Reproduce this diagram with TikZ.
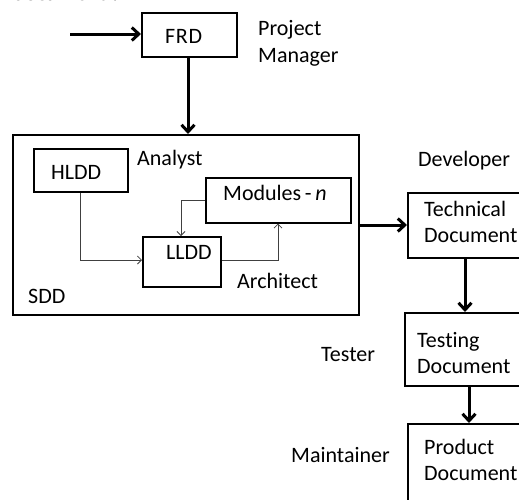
\documentclass[tikz,border=0pt]{standalone}
\usepackage{fontspec}
\setmainfont[Ligatures=NoCommon]{Carlito}
\newfontfamily\serifpart{Liberation Serif}
\usetikzlibrary{arrows.meta}
\begin{document}
\begin{tikzpicture}[x=1pt,y=-1pt,
  lbl/.style={anchor=base west,inner sep=0pt,font=\fontsize{22}{26}\selectfont,text=black},
  boxthick/.style={draw=black,line width=2.2pt,inner sep=0pt,anchor=north west},
  boxthin/.style={draw=black,line width=1.6pt,inner sep=0pt,anchor=north west},
  bigarrow/.style={line width=3pt,-{Straight Barb[length=7pt,width=13pt,line width=3pt]}},
  thinarrow/.style={draw=black!75,line width=0.8pt,-{Straight Barb[length=4pt,width=8pt,line width=0.8pt]}}]
\useasboundingbox (0,0) rectangle (519,499);
\clip (0,0) rectangle (519,499);
\fill[white] (0,0) rectangle (519,499);
% cut-off heading
\node[anchor=base west,inner sep=0pt,font=\serifpart\fontsize{22}{26}\selectfont\bfseries] (head) at (13,0.5) {document :};
% boxes
\node[boxthick,minimum width=95pt,minimum height=44pt] (frd) at (141,12) {};
\node[boxthick,minimum width=346pt,minimum height=180pt] (sdd) at (12,134) {};
\node[boxthin,minimum width=94pt,minimum height=43pt] (hldd) at (33,148) {};
\node[boxthin,minimum width=145pt,minimum height=45pt] (mod) at (205,177) {};
\node[boxthin,minimum width=78pt,minimum height=50pt] (lldd) at (142,236) {};
\node[boxthin,minimum width=130pt,minimum height=65pt] (tech) at (407,192) {};
\node[boxthin,minimum width=130pt,minimum height=73pt] (test) at (404,312) {};
\node[boxthin,minimum width=130pt,minimum height=90pt] (prod) at (407,423) {};
% texts
\node[lbl,font=\fontsize{22}{26}\selectfont\addfontfeature{LetterSpace=3}] (tfrd) at (165,43) {FRD};
\node[lbl] (tpm1) at (258,35) {Project};
\node[lbl] (tpm2) at (258,62) {Manager};
\node[lbl] (tan) at (137,165) {Analyst};
\node[lbl] (thl) at (51,179) {HLDD};
\node[lbl] (tmod) at (223,200) {Modules\,-\,\textit{n}};
\node[lbl] (tll) at (166,259) {LLDD};
\node[lbl] (tarch) at (237,288) {Architect};
\node[lbl] (tsdd) at (28,303) {SDD};
\node[lbl] (tdev) at (418,166) {Developer};
\node[lbl] (ttech1) at (424,216) {Technical};
\node[lbl] (ttech2) at (424,242) {Document};
\node[lbl] (ttest1) at (417,347) {Testing};
\node[lbl] (ttest2) at (417,373) {Document};
\node[lbl] (tter) at (321,361) {Tester};
\node[lbl] (tprod1) at (424,454) {Product};
\node[lbl] (tprod2) at (424,480) {Document};
\node[lbl] (tmain) at (291,462) {Maintainer};
% connectors
\coordinate (in) at (70,34);
\draw[bigarrow] (in) -- (in -| frd.west);
\draw[bigarrow] (188,0 |- frd.south) -- (188,0 |- sdd.north);
\draw[bigarrow] (sdd.east |- 0,225) -- (tech.west |- 0,225);
\draw[bigarrow] (465,0 |- tech.south) -- (465,0 |- test.north);
\draw[bigarrow] (469,0 |- test.south) -- (469,0 |- prod.north);
\draw[thinarrow] (80,0 |- hldd.south) |- (lldd.west |- 0,260);
\draw[thinarrow] (mod.west |- 0,200) -| (181,0 |- lldd.north);
\draw[thinarrow] (lldd.east |- 0,260) -| (278,0 |- mod.south);
\end{tikzpicture}
\end{document}
